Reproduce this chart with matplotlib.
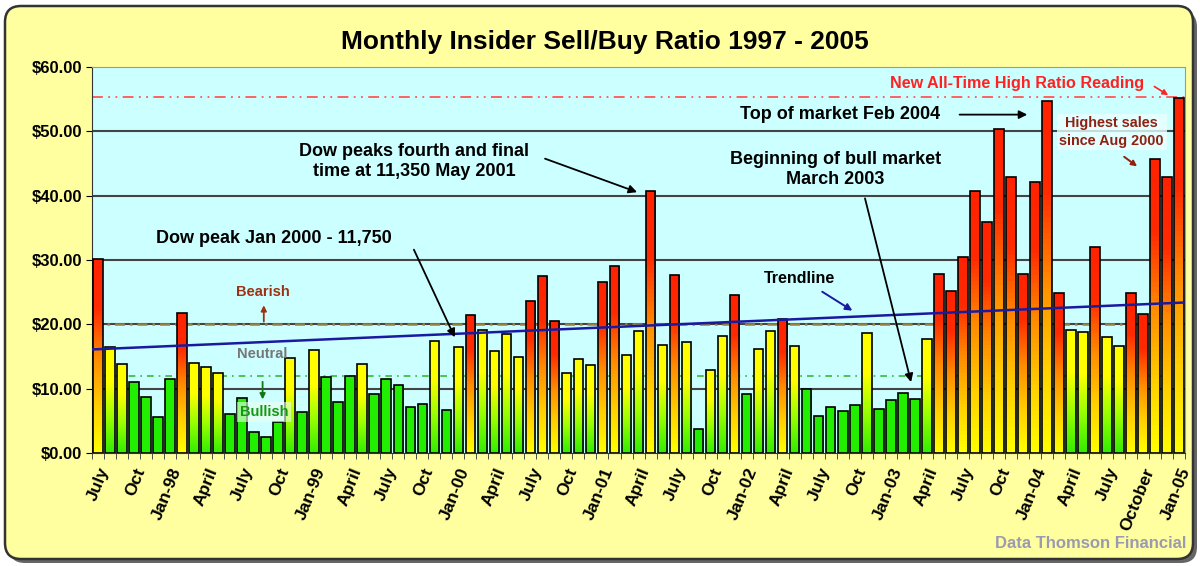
import numpy as np
import matplotlib
matplotlib.use('Agg')
import matplotlib.pyplot as plt
from matplotlib.colors import LinearSegmentedColormap
from matplotlib.patches import FancyBboxPatch

plt.rcParams['font.family'] = ['Liberation Sans', 'DejaVu Sans']

# monthly sell/buy ratio, July 1997 .. Jan 2005
ratio_1997 = [30.1, 16.5, 13.8, 11.0, 8.7, 5.6]
ratio_1998 = [11.5, 21.7, 14.0, 13.4, 12.4, 6.0, 8.5, 3.2, 2.5, 4.9, 14.7, 6.4]
ratio_1999 = [16.0, 11.8, 8.0, 11.9, 13.8, 9.1, 11.5, 10.6, 7.2, 7.6, 17.4, 6.7]
ratio_2000 = [16.5, 21.5, 19.1, 15.9, 18.5, 15.0, 23.7, 27.5, 20.5, 12.4, 14.6, 13.7]
ratio_2001 = [26.6, 29.1, 15.2, 18.9, 40.7, 16.8, 27.7, 17.2, 3.7, 12.9, 18.2, 24.5]
ratio_2002 = [9.1, 16.1, 19.0, 20.9, 16.7, 10.0, 5.8, 7.1, 6.5, 7.4, 18.7, 6.8]
ratio_2003 = [8.3, 9.4, 8.4, 17.8, 27.8, 25.2, 30.5, 40.7, 35.9, 50.4, 42.9, 27.8]
ratio_2004 = [42.2, 54.7, 24.9, 19.1, 18.8, 32.0, 18.0, 16.6, 24.8, 21.6, 45.7, 42.9]
ratio_2005 = [55.2]
ratios = (ratio_1997 + ratio_1998 + ratio_1999 + ratio_2000 + ratio_2001 +
          ratio_2002 + ratio_2003 + ratio_2004 + ratio_2005)

tick_labels = ['July', 'Oct', 'Jan-98', 'April', 'July', 'Oct', 'Jan-99', 'April',
               'July', 'Oct', 'Jan-00', 'April', 'July', 'Oct', 'Jan-01', 'April',
               'July', 'Oct', 'Jan-02', 'April', 'July', 'Oct', 'Jan-03', 'April',
               'July', 'Oct', 'Jan-04', 'April', 'July', 'October', 'Jan-05']

trend_start = 16.1
trend_end = 23.4
high_line = 55.3
bearish_level = 20
bullish_level = 12

cm_red = LinearSegmentedColormap.from_list('red', ['#ffff00', '#ffcc00', '#ff8800', '#ff2a00', '#ff2200'])
cm_yel = LinearSegmentedColormap.from_list('yel', ['#33ee00', '#99ff00', '#ffff00', '#ffff00'])
cm_grn = LinearSegmentedColormap.from_list('grn', ['#22ee00', '#22ee00'])

fig = plt.figure(figsize=(12, 5.66), dpi=100)
fig.patch.set_facecolor('white')
# rounded yellow frame, in pixels
fig.patches.append(FancyBboxPatch((9, 3), 1188, 552, boxstyle='round,pad=0,rounding_size=16',
                                  transform=None, facecolor='#666666', edgecolor='none', zorder=-11))
fig.patches.append(FancyBboxPatch((5, 7), 1188, 553, boxstyle='round,pad=0,rounding_size=16',
                                  transform=None, facecolor='#ffffa0', edgecolor='#333333',
                                  linewidth=1.8, zorder=-10))

ax = fig.add_axes([0.0767, 0.1996, 0.9108, 0.682])
ax.set_facecolor('#ccffff')

x = np.arange(len(ratios))
bars = ax.bar(x, ratios, width=0.8, facecolor='none', edgecolor='black', linewidth=1.2, zorder=4)
grad = np.linspace(0, 1, 64).reshape(-1, 1)
for b, v in zip(bars, ratios):
    x0 = b.get_x()
    x1 = x0 + b.get_width()
    if v >= bearish_level:
        cm = cm_red
    elif v >= bullish_level:
        cm = cm_yel
    else:
        cm = cm_grn
    im = ax.imshow(grad, cmap=cm, extent=[x0, x1, 0, v], origin='lower', aspect='auto', zorder=3)
    im.set_clip_path(b)

ax.set_xlim(-0.5, len(ratios) - 0.5)
ax.set_ylim(0, 60)

# gridlines and reference lines
for g in range(10, 60, 10):
    ax.axhline(g, color='#444444', linewidth=1.5, zorder=1)
ax.axhline(high_line, color='#ff5555', linewidth=1.3, linestyle=(0, (6, 3, 1, 3, 1, 3)), zorder=2)
ax.axhline(bearish_level, color='#9a8040', linewidth=1.8, linestyle=(0, (4, 2, 1, 2)), zorder=2)
ax.axhline(bullish_level, color='#33bb33', linewidth=1.2, linestyle=(0, (4, 3, 1, 3)), zorder=2)
ax.plot([-0.5, len(ratios) - 0.5], [trend_start, trend_end], color='#1a1aa0', linewidth=1.8, zorder=5)

ax.set_yticks(range(0, 61, 10))
ax.set_yticklabels(['$%.2f' % v for v in range(0, 61, 10)], fontsize=12, fontweight='bold')
ax.set_xticks(np.arange(0, len(ratios), 3))
ax.set_xticklabels(tick_labels, rotation=68, ha='right', rotation_mode='anchor',
                   fontsize=12.5, fontweight='bold')
ax.set_xticks(np.arange(-0.5, len(ratios), 1), minor=True)
ax.tick_params(axis='x', which='major', length=0, pad=9)
ax.tick_params(axis='x', which='minor', length=4, color='#333333')
ax.tick_params(axis='y', length=4, pad=3)
for s in ['top', 'right']:
    ax.spines[s].set_color('#999999')
ax.spines['left'].set_color('#333333')
ax.spines['bottom'].set_color('#333333')

fig.text(0.504, 0.925, 'Monthly Insider Sell/Buy Ratio 1997 - 2005', ha='center', va='center',
         fontsize=19, fontweight='bold')
fig.text(0.989, 0.027, 'Data Thomson Financial', ha='right', va='bottom', fontsize=12,
         color='#9a9ab0', fontweight='bold')

# signal labels
ax.text(13.7, 25.0, 'Bearish', ha='center', va='center', fontsize=10.5, fontweight='bold', color='#a03010', zorder=6)
ax.annotate('', xy=(13.8, 23.4), xytext=(13.8, 20), zorder=6,
            arrowprops=dict(arrowstyle='-|>', color='#a03010', lw=1.3, mutation_scale=8))
ax.text(13.7, 15.4, 'Neutral', ha='center', va='center', fontsize=10.5, fontweight='bold', color='#777777', zorder=6)
ax.text(13.8, 6.4, 'Bullish', ha='center', va='center', fontsize=10.5, fontweight='bold', color='#119911', zorder=6,
        bbox=dict(facecolor='#eeffee', edgecolor='none', alpha=0.6, pad=2))
ax.annotate('', xy=(13.7, 7.9), xytext=(13.7, 11.5), zorder=6,
            arrowprops=dict(arrowstyle='-|>', color='#117711', lw=1.3, mutation_scale=8))

# event annotations
arrow_k = dict(arrowstyle='-|>', color='black', lw=1.3, mutation_scale=12)
ax.text(14.6, 33.4, 'Dow peak Jan 2000 - 11,750', ha='center', va='center', fontsize=13, fontweight='bold', zorder=6)
ax.annotate('', xy=(29.8, 17.6), xytext=(26.2, 32.0), arrowprops=arrow_k, zorder=6)
ax.text(26.3, 45.3, 'Dow peaks fourth and final\ntime at 11,350 May 2001', ha='center', va='center',
        fontsize=13, fontweight='bold', linespacing=1.2, zorder=6)
ax.annotate('', xy=(45.1, 40.4), xytext=(37.0, 45.9), arrowprops=arrow_k, zorder=6)
ax.text(61.8, 52.6, 'Top of market Feb 2004', ha='center', va='center', fontsize=13, fontweight='bold', zorder=6)
ax.annotate('', xy=(77.6, 52.6), xytext=(71.5, 52.6), arrowprops=arrow_k, zorder=6)
ax.text(61.4, 44.1, 'Beginning of bull market\nMarch 2003', ha='center', va='center',
        fontsize=13, fontweight='bold', linespacing=1.2, zorder=6)
ax.annotate('', xy=(67.75, 10.6), xytext=(63.8, 40.0), arrowprops=arrow_k, zorder=6)
ax.text(58.4, 27.2, 'Trendline', ha='center', va='center', fontsize=11.5, fontweight='bold', zorder=6)
ax.annotate('', xy=(63.0, 21.9), xytext=(60.1, 25.3), zorder=6,
            arrowprops=dict(arrowstyle='-|>', color='#1a1aa0', lw=1.4, mutation_scale=10))
ax.text(76.5, 57.5, 'New All-Time High Ratio Reading', ha='center', va='center', fontsize=11.6,
        fontweight='bold', color='#ff2222', zorder=6)
ax.annotate('', xy=(89.3, 55.4), xytext=(87.75, 57.2), zorder=6,
            arrowprops=dict(arrowstyle='-|>', color='#ff2222', lw=1.2, mutation_scale=8))
ax.text(84.4, 49.9, 'Highest sales\nsince Aug 2000', ha='center', va='center', fontsize=10.4,
        fontweight='bold', color='#902010', linespacing=1.3, zorder=6,
        bbox=dict(facecolor='#eaffff', edgecolor='none', alpha=0.8, pad=2))
ax.annotate('', xy=(86.7, 44.3), xytext=(85.25, 46.3), zorder=6,
            arrowprops=dict(arrowstyle='-|>', color='#902010', lw=1.4, mutation_scale=8))

fig.savefig('out.png', dpi=100)
